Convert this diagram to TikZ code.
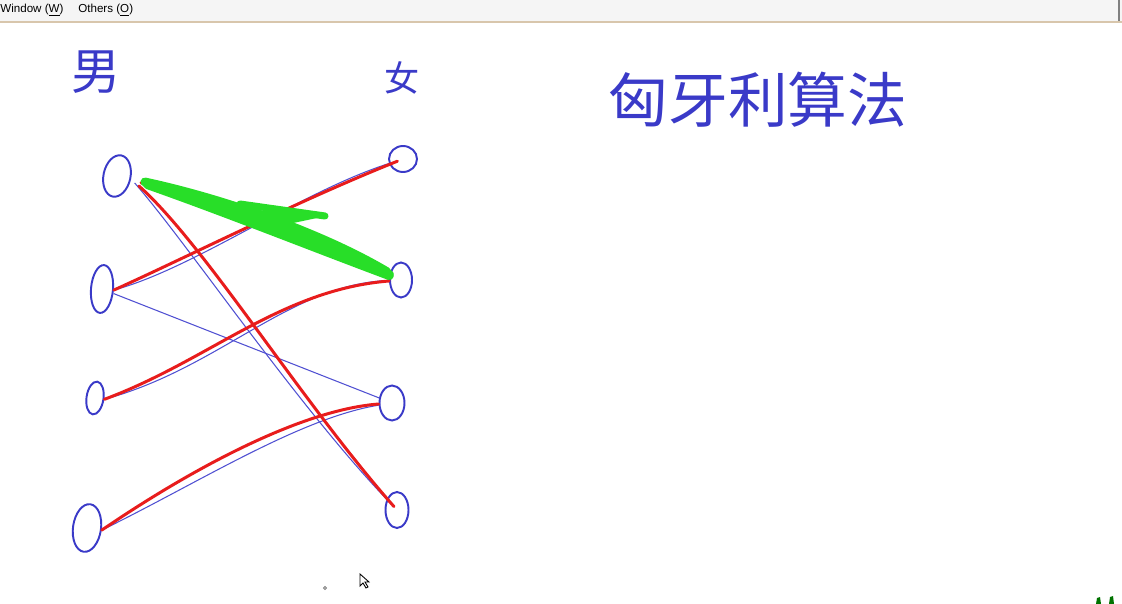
\documentclass[tikz,border=0pt]{standalone}
\usepackage{fontspec}
\setmainfont{Liberation Sans}
\newfontfamily\cjk{Noto Sans CJK SC}
\usetikzlibrary{shapes.geometric}
\definecolor{penblue}{RGB}{58,58,200}
\definecolor{thinblue}{RGB}{80,80,210}
\definecolor{penred}{RGB}{232,28,28}
\definecolor{pengreen}{RGB}{40,222,40}
\definecolor{menubar}{RGB}{245,245,245}
\definecolor{menuline}{RGB}{216,198,172}
\tikzset{
  boy/.style={ellipse, draw=penblue, line width=1.1pt, inner sep=0pt},
  girl/.style={boy},
  hand/.style={text=penblue, inner sep=0pt, font=\cjk\fontsize{#1}{#1}\selectfont},
  menu/.style={anchor=west, inner sep=0pt, font=\fontsize{6.6}{8}\selectfont},
  edge/.style={thinblue, line width=0.6pt},
  match/.style={penred, line width=1.7pt, line cap=round},
  crossout/.style={pengreen, line width=5pt, line cap=round}
}

\begin{document}
\begin{tikzpicture}[x=0.02cm, y=0.02cm]
  \useasboundingbox (0,0) rectangle (1122,-604);
  \fill[white] (0,0) rectangle (1122,-604);
  \fill[menubar] (0,0) rectangle (1122,-21);
  \draw[menuline, line width=0.8pt] (0,-22) -- (1122,-22);
  \draw[gray, line width=0.6pt] (1119,0) -- (1119,-21);
  \node[menu] (window) at (0,-10) {Window (\underline{W})};
  \node[menu] (others) at (78,-10) {Others (\underline{O})};

  \node[hand=28] (nan) at (96,-72) {男};
  \node[hand=20] (nv) at (402,-78) {女};
  \node[hand=34] (title) at (758,-100) {匈牙利算法};

  \node[boy, minimum width=0.54cm, minimum height=0.84cm, rotate=-12] (m1) at (117,-176) {};
  \node[boy, minimum width=0.44cm, minimum height=0.96cm, rotate=-5] (m2) at (102,-289) {};
  \node[boy, minimum width=0.34cm, minimum height=0.66cm, rotate=-8] (m3) at (95,-398) {};
  \node[boy, minimum width=0.56cm, minimum height=0.96cm, rotate=-8] (m4) at (87,-528) {};
  \node[girl, minimum width=0.56cm, minimum height=0.52cm] (w1) at (403,-159) {};
  \node[girl, minimum width=0.44cm, minimum height=0.70cm] (w2) at (401,-280) {};
  \node[girl, minimum width=0.50cm, minimum height=0.70cm] (w3) at (392,-403) {};
  \node[girl, minimum width=0.46cm, minimum height=0.72cm] (w4) at (397,-510) {};

  \draw[edge] (m2.east) .. controls (195,-268) and (300,-192) .. (w1);
  \draw[edge, shorten <=3pt, shorten >=-4pt] (m1.east) .. controls (185,-240) and (300,-410) .. (w4);
  \draw[edge] (m2) -- (w3);
  \draw[edge] (m3.east) .. controls (220,-368) and (290,-284) .. (w2);
  \draw[edge] (m4.east) .. controls (200,-482) and (300,-418) .. (w3);

  \draw[match, shorten >=-5pt] (m2.east) .. controls (185,-258) and (300,-200) .. (w1);
  \draw[match, shorten <=6pt, shorten >=-6pt] (m1.east) .. controls (205,-245) and (300,-400) .. (w4);
  \draw[match] (m3.east) .. controls (210,-360) and (280,-290) .. (w2);
  \draw[match] (m4.east) .. controls (190,-470) and (300,-410) .. (w3);
  \draw[match, shorten <=6pt] (m1.east) .. controls (220,-212) and (320,-246) .. (w2);

  \draw[crossout, shorten <=8pt, shorten >=2pt] (m1.east) .. controls (220,-198) and (320,-232) .. (w2);
  \draw[crossout, shorten <=9pt] (m1.east) .. controls (222,-205) and (318,-240) .. (w2);
  \draw[crossout, shorten <=10pt] (m1.east) .. controls (225,-212) and (315,-248) .. (w2);
  \draw[crossout, line width=4pt] (240,-204) -- (325,-216);
  \draw[crossout, line width=4pt] (245,-212) -- (300,-218) -- (262,-226);
  \draw[crossout, line width=3pt] (290,-236) -- (340,-248);

  \draw[black, line width=0.5pt, fill=white] (360,-574) -- (360,-586) -- (363,-583) -- (366,-588) -- (368,-587) -- (365,-582) -- (369,-582) -- cycle;
  \draw[gray, line width=0.5pt] (325,-588) circle (1.6);
  \fill[green!45!black] (1096,-604) -- (1097,-598) -- (1100,-597) -- (1101,-604) -- cycle;
  \fill[green!45!black] (1109,-604) -- (1110,-597) -- (1113,-596) -- (1114,-604) -- cycle;
\end{tikzpicture}
\end{document}
